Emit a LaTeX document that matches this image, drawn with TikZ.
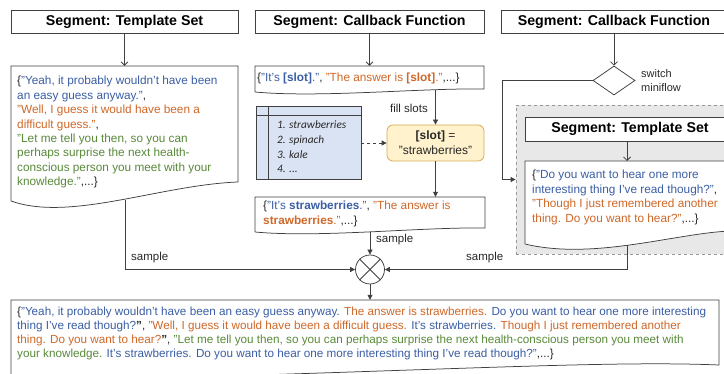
\documentclass[tikz,border=0pt]{standalone}
\usepackage{fontspec}
\setmainfont{Liberation Sans}
\newfontfamily\calfont{Carlito}
\usetikzlibrary{arrows.meta,shapes.geometric}
\definecolor{cblue}{RGB}{59,94,165}
\definecolor{corange}{RGB}{207,104,40}
\definecolor{cgreen}{RGB}{89,138,58}
\definecolor{lnc}{RGB}{64,64,64}
\definecolor{txtc}{RGB}{40,40,40}
\definecolor{listc}{RGB}{218,227,243}
\definecolor{ylw}{RGB}{255,242,204}
\definecolor{ylwd}{RGB}{214,170,80}
\definecolor{grpf}{RGB}{232,232,232}
\definecolor{grpd}{RGB}{150,150,150}
\newcommand{\tbl}[1]{\textcolor{cblue}{#1}}
\newcommand{\tor}[1]{\textcolor{corange}{#1}}
\newcommand{\tgr}[1]{\textcolor{cgreen}{#1}}
\tikzset{
  ln/.style={draw=lnc, line width=0.75pt},
  segbox/.style={draw=lnc, line width=0.75pt, fill=white, inner sep=0pt, minimum height=23pt, text=black, font=\fontsize{14.2}{16}\selectfont\bfseries},
  docarea/.style={draw=none, inner sep=0pt},
  txt/.style={anchor=base west, inner sep=0pt, text=txtc, font=\fontsize{11.8}{14.4}\selectfont},
  openarr/.style={-{Straight Barb[length=3.5pt,width=7pt]}},
  fillarr/.style={-{Triangle[length=5pt,width=5pt]}},
  lab/.style={inner sep=0pt, text=txtc, font=\fontsize{11.5}{14}\selectfont},
}
\begin{document}
\begin{tikzpicture}[x=1pt,y=-1pt]
\useasboundingbox (0,0) rectangle (724,374);
\clip (0,0) rectangle (724,374);
\fill[white] (0,0) rectangle (724,374);

% ---------- left column ----------
\node[segbox, minimum width=227pt] (h1) at (124.5,21.5) {Segment: Template Set};
\node[docarea, minimum width=227pt, minimum height=135pt] (d1) at (124.5,133.5) {};
\filldraw[ln, fill=white] (11,201) -- (11,66) -- (238,66) -- (238,182) .. controls (160,185) and (70,222) .. (11,201);
\draw[ln, openarr] (h1) -- (d1);
\node[txt] (t1) at (17,85) {\parbox[t]{225pt}{\raggedright
\{\tbl{"Yeah, it probably wouldn't have been}\\
\tbl{an easy guess anyway."},\\
\tor{"Well, I guess it would have been a}\\
\tor{difficult guess."},\\
\tgr{"Let me tell you then, so you can}\\
\tgr{perhaps surprise the next health-}\\
\tgr{conscious person you meet with your}\\
\tgr{knowledge."},...\}}};
\coordinate (d1out) at (125,200.5);

% ---------- middle column ----------
\node[segbox, minimum width=229pt] (h2) at (369.5,21.5) {Segment: Callback Function};
\node[docarea, minimum width=229pt, minimum height=26pt] (d2) at (369.5,79) {};
\filldraw[ln, fill=white] (255,92) -- (255,66) -- (484,66) -- (484,89) .. controls (420,88) and (320,98) .. (255,92);
\draw[ln, openarr] (h2) -- (d2);
\node[txt] (t2) at (257,81.5) {\{\tbl{"It's \textbf{[slot]}."}, \tor{"The answer is \textbf{[slot]}."},...\}};
\coordinate (d2fs) at (435.5,90);

\node[draw=lnc, line width=0.75pt, fill=listc, minimum width=105pt, minimum height=73pt, inner sep=0pt] (list) at (308.5,142.5) {};
\draw[lnc, line width=0.6pt] (256,115) -- (361,115);
\draw[lnc, line width=0.6pt] (268,106) -- (268,179);
\node[anchor=base west, inner sep=0pt, text=txtc, font=\calfont\itshape\fontsize{11.3}{14.6}\selectfont] (items) at (277,129)
  {\parbox[t]{80pt}{1. strawberries\\2. spinach\\3. kale\\4. ...}};

\node[draw=ylwd, line width=0.75pt, fill=ylw, rounded corners=6pt, minimum width=97pt, minimum height=36pt, inner sep=0pt, align=center, text=txtc, font=\fontsize{12}{15}\selectfont] (slot) at (435.5,143) {\textbf{[slot]} =\\"strawberries"};
\draw[ln, fillarr] (d2fs) -- (slot.north);
\node[lab, anchor=east] (fs) at (428,108) {fill slots};
\draw[ln, fillarr, dashed] (list.east |- slot.west) -- (slot.west);

\node[docarea, minimum width=230pt, minimum height=35pt] (d3) at (370,214.5) {};
\filldraw[ln, fill=white] (255,232) -- (255,197) -- (485,197) -- (485,228) .. controls (420,227) and (320,238) .. (255,232);
\draw[ln, fillarr] (slot.south) -- (slot.south |- d3.north);
\node[txt] (t3) at (263,210) {\parbox[t]{220pt}{\raggedright
\{\tbl{"It's \textbf{strawberries}."}, \tor{"The answer is}\\
\tor{\textbf{strawberries}."},...\}}};
\coordinate (d3out) at (370,232);

% ---------- mixer ----------
\node[circle, draw=lnc, line width=0.75pt, minimum size=29pt, inner sep=0pt, fill=white] (mix) at (370,269.5) {};
\draw[ln] (mix.north west) -- (mix.south east);
\draw[ln] (mix.north east) -- (mix.south west);
\draw[ln, fillarr] (d3out) -- (mix.north);
\node[lab, anchor=west] (s2) at (376,240) {sample};
\draw[ln, fillarr] (d1out) |- (mix.west);
\node[lab, anchor=west] (s1) at (131,258) {sample};

% ---------- right column ----------
\node[segbox, minimum width=226pt] (h3) at (614,21.5) {Segment: Callback Function};
\node[diamond, draw=lnc, line width=0.75pt, minimum width=42pt, minimum height=29pt, inner sep=0pt, aspect=1.45] (sw) at (614,80.5) {};
\draw[ln, openarr] (h3) -- (sw);
\node[lab, anchor=base west, font=\fontsize{11}{14}\selectfont] (swl) at (641,78) {\parbox[t]{60pt}{switch\\miniflow}};

\node[draw=grpd, line width=0.75pt, dashed, fill=grpf, minimum width=224pt, minimum height=149pt, inner sep=0pt] (grp) at (628,179.5) {};
\coordinate (swturn) at (502,80.5);
\draw[ln, fillarr] (sw.west) -- (swturn) |- (grp.west);

\node[segbox, minimum width=210pt, minimum height=24pt] (h4) at (630,129) {Segment: Template Set};
\node[docarea, minimum width=220pt, minimum height=83pt] (d4) at (635,202.5) {};
\filldraw[ln, fill=white] (525,244) -- (525,161) -- (745,161) -- (745,231) .. controls (690,228) and (600,262) .. (525,244);
\draw[ln, openarr] (h4.south -| 627,0) -- (627,161);
\node[txt] (t4) at (532,179) {\parbox[t]{200pt}{\raggedright
\{\tbl{"Do you want to hear one more}\\
\tbl{interesting thing I've read though?"},\\
\tor{"Though I just remembered another}\\
\tor{thing. Do you want to hear?"},...\}}};
\coordinate (d4out) at (627,245.5);
\draw[ln, fillarr] (d4out) |- (mix.east);
\node[lab, anchor=west] (s3) at (466,258) {sample};

% ---------- bottom ----------
\node[docarea, minimum width=708pt, minimum height=72pt] (bot) at (365,336) {};
\filldraw[ln, fill=white] (11,390) -- (11,300) -- (719,300) -- (719,365) .. controls (600,360) and (420,372) .. (11,382);
\draw[ln, fillarr] (mix.south) -- (mix.south |- bot.north);
\node[txt, font=\fontsize{11.7}{14}\selectfont] (t5) at (17,316) {\parbox[t]{705pt}{\raggedright
\{\tbl{"Yeah, it probably wouldn't have been an easy guess anyway.} \tor{The answer is strawberries.} \tbl{Do you want to hear one more interesting}\\
\tbl{thing I've read though?}\textbf{"}, \tor{"Well, I guess it would have been a difficult guess.} \tbl{It's strawberries.} \tor{Though I just remembered another}\\
\tor{thing. Do you want to hear?}\textbf{"}, \tgr{"Let me tell you then, so you can perhaps surprise the next health-conscious person you meet with}\\
\tgr{your knowledge.} \tbl{It's strawberries. Do you want to hear one more interesting thing I've read though?"},...\}}};
\end{tikzpicture}
\end{document}
